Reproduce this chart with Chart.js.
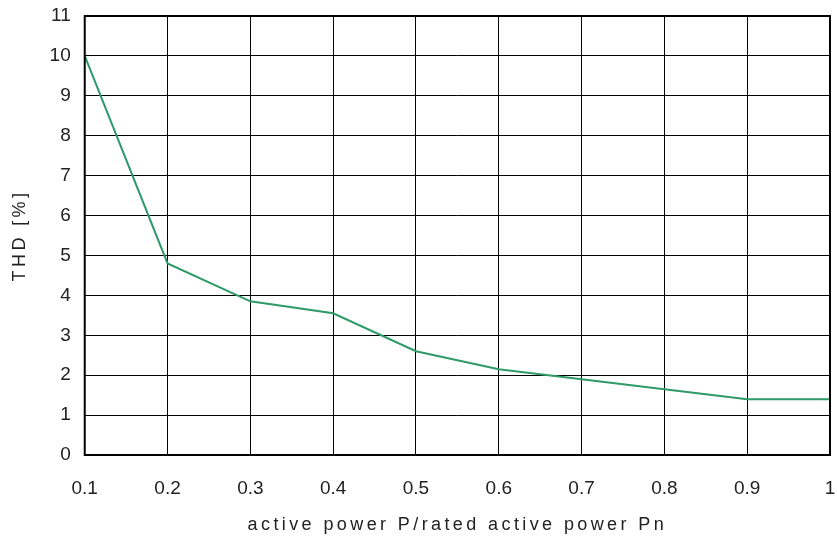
<!DOCTYPE html>
<html>
<head>
<meta charset="utf-8">
<script src="https://cdn.jsdelivr.net/npm/chart.js@4/dist/chart.umd.min.js"></script>
<style>
  html, body { margin: 0; padding: 0; background: #fff; }
  #wrap { width: 837px; height: 540px; }
</style>
</head>
<body>
<div id="wrap"><canvas id="thd"></canvas></div>
<script>
// THD vs. load (P/Pn)
const powerRatio = [0.1, 0.2, 0.3, 0.4, 0.5, 0.6, 0.7, 0.8, 0.9, 1.0];
const thdPercent = [10.0, 4.8, 3.85, 3.55, 2.6, 2.15, 1.9, 1.65, 1.4, 1.4];

const xTitle = 'active power P/rated active power Pn';
const yTitle = 'THD [%]';

const points = powerRatio.map((x, i) => ({ x: x, y: thdPercent[i] }));

const fontFamily = '"Liberation Sans", Arial, sans-serif';

// heavy frame around the plot area
const frame = {
  id: 'frame',
  afterDraw(chart) {
    const { ctx, chartArea: a } = chart;
    ctx.save();
    ctx.strokeStyle = '#000';
    ctx.lineWidth = 2;
    ctx.strokeRect(a.left, a.top, a.right - a.left, a.bottom - a.top);
    ctx.restore();
  }
};

// the axis titles in the original are letter-spaced
const spacedTitles = {
  id: 'spacedTitles',
  afterLayout(chart) {
    Object.values(chart.scales).forEach((s) => {
      if (s._spaced) return;
      const orig = s.drawTitle.bind(s);
      s.drawTitle = function () {
        const c = this.ctx;
        c.save();
        c.letterSpacing = '3.4px';
        orig();
        c.restore();
      };
      s._spaced = true;
    });
  }
};

new Chart(document.getElementById('thd'), {
  type: 'line',
  data: {
    datasets: [{
      data: points,
      borderColor: '#2e9a68',
      borderWidth: 2,
      pointRadius: 0,
      tension: 0,
      fill: false,
    }],
  },
  options: {
    responsive: true,
    maintainAspectRatio: false,
    animation: false,
    layout: { padding: { top: 4, right: 0, left: 9, bottom: 0 } },
    plugins: { legend: { display: false }, tooltip: { enabled: false } },
    scales: {
      x: {
        type: 'linear',
        min: 0.1,
        max: 1,
        afterFit: (s) => { s.paddingRight = 7; s.height = 85; },
        grid: { color: '#000', lineWidth: 1, drawTicks: false },
        border: { display: false },
        ticks: {
          stepSize: 0.1,
          color: '#222',
          padding: 22,
          font: { family: fontFamily, size: 19 },
          callback: (v) => (Math.abs(v - 1) < 1e-9 ? '1' : v.toFixed(1)),
        },
        title: {
          display: true,
          text: xTitle,
          color: '#222',
          font: { family: fontFamily, size: 18 },
          padding: { top: 4, bottom: 4 },
        },
      },
      y: {
        min: 0,
        max: 11,
        afterFit: (s) => { s.paddingTop = 16; s.paddingBottom = 0; },
        grid: { color: '#000', lineWidth: 1, drawTicks: false },
        border: { display: false },
        ticks: {
          stepSize: 1,
          color: '#222',
          padding: 14,
          font: { family: fontFamily, size: 19 },
        },
        title: {
          display: true,
          text: yTitle,
          color: '#222',
          font: { family: fontFamily, size: 18 },
          padding: { top: 0, bottom: 5 },
        },
      },
    },
  },
  plugins: [frame, spacedTitles],
});
</script>
</body>
</html>
